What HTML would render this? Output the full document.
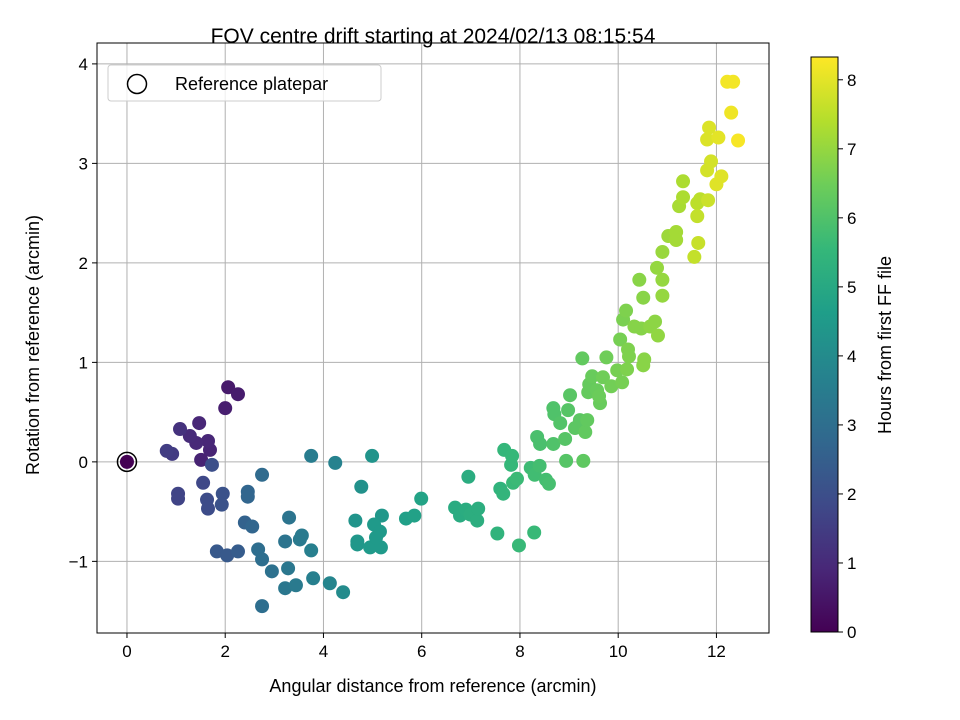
<!DOCTYPE html>
<html><head><meta charset="utf-8"><style>body{margin:0;background:#fff}svg{display:block;font-family:"Liberation Sans","DejaVu Sans",sans-serif}</style></head>
<body>
<svg id="chart" width="960" height="720" viewBox="0 0 960 720" xmlns="http://www.w3.org/2000/svg">
<defs><linearGradient id="vir" x1="0" y1="1" x2="0" y2="0"></linearGradient></defs>
<text x="433" y="43" font-size="21" text-anchor="middle">FOV centre drift starting at 2024/02/13 08:15:54</text>
<g id="grid"></g>
<g id="pts"></g>
<rect x="97" y="43" width="672" height="590" fill="none" stroke="#000" stroke-width="1"/>
<g id="axes"></g>
<text x="433" y="692" font-size="18" text-anchor="middle">Angular distance from reference (arcmin)</text>
<text transform="translate(39,345) rotate(-90)" font-size="18" text-anchor="middle">Rotation from reference (arcmin)</text>
<g>
<rect x="108" y="65" width="273" height="36" rx="3" fill="#fff" fill-opacity="0.8" stroke="#ccc"/>
<circle cx="137" cy="84" r="9.5" fill="none" stroke="#000" stroke-width="1.5"/>
<text x="175" y="90" font-size="18">Reference platepar</text>
</g>
<rect x="811" y="57" width="27" height="575" fill="url(#vir)" stroke="#000" stroke-width="1"/>
<g id="cbar"></g>
<text transform="translate(891,345) rotate(-90)" font-size="18" text-anchor="middle">Hours from first FF file</text>
</svg>
<script>
const xs=[2.06,2.26,2.0,1.47,1.08,1.28,1.41,1.65,1.69,0.81,0.92,1.51,1.73,
1.04,1.04,1.55,1.63,1.65,1.95,1.93,1.83,2.04,2.26,2.4,2.46,2.46,2.55,2.75,2.67,2.75,2.75,2.95,3.28,3.22,3.3,3.22,3.44,3.52,3.56,3.75,3.79,3.75,4.13,4.4,4.24,4.77,4.65,4.69,4.69,4.99,4.95,5.03,5.15,5.17,5.19,5.07,
5.68,5.85,5.99,6.68,6.78,6.9,6.95,6.99,7.13,7.15,7.54,7.6,7.66,7.98,8.29,7.68,7.82,7.84,7.86,7.94,8.22,8.3,8.4,8.53,8.59,8.35,8.41,8.68,8.68,8.7,8.82,8.94,8.92,8.98,9.02,9.12,9.22,9.29,9.27,9.33,9.37,9.39,9.41,9.47,9.57,9.63,9.61,9.76,9.69,9.86,9.98,10.08,10.04,10.1,10.2,10.22,10.18,10.16,10.33,10.47,10.51,10.53,10.51,10.43,10.65,10.75,10.79,10.9,10.9,10.9,10.81,11.02,11.18,11.18,11.24,11.32,11.32,11.55,11.61,11.63,11.61,11.67,11.83,11.81,11.89,11.81,11.85,12.04,12.0,12.1,12.22,12.34,12.3,12.44];
const ys=[0.75,0.68,0.54,0.39,0.33,0.26,0.19,0.21,0.12,0.11,0.08,0.02,-0.03,
-0.32,-0.37,-0.21,-0.38,-0.47,-0.32,-0.43,-0.9,-0.94,-0.9,-0.61,-0.3,-0.35,-0.65,-0.13,-0.88,-0.98,-1.45,-1.1,-1.07,-0.8,-0.56,-1.27,-1.24,-0.78,-0.74,-0.89,-1.17,0.06,-1.22,-1.31,-0.01,-0.25,-0.59,-0.8,-0.83,0.06,-0.86,-0.63,-0.7,-0.86,-0.54,-0.76,
-0.57,-0.54,-0.37,-0.46,-0.54,-0.48,-0.15,-0.53,-0.59,-0.47,-0.72,-0.27,-0.32,-0.84,-0.71,0.12,-0.03,0.06,-0.21,-0.17,-0.06,-0.13,-0.04,-0.18,-0.22,0.25,0.18,0.18,0.54,0.48,0.39,0.01,0.23,0.52,0.67,0.34,0.42,0.01,1.04,0.3,0.42,0.7,0.78,0.86,0.72,0.59,0.66,1.05,0.85,0.76,0.92,0.8,1.23,1.43,1.13,1.06,0.93,1.52,1.36,1.34,0.97,1.03,1.65,1.83,1.36,1.41,1.95,1.83,1.67,2.11,1.27,2.27,2.31,2.23,2.57,2.66,2.82,2.06,2.47,2.2,2.6,2.64,2.63,2.93,3.02,3.24,3.36,3.26,2.79,2.87,3.82,3.82,3.51,3.23];
const hours=[0.6,0.65,0.7,0.9,1.2,1.0,0.95,0.9,0.85,1.5,1.45,0.8,2.0,
1.7,1.7,1.8,1.9,1.9,2.1,2.1,2.3,2.3,2.4,2.6,2.7,2.7,2.7,2.9,3.0,3.0,3.0,3.1,3.3,3.2,3.2,3.3,3.4,3.4,3.4,3.6,3.6,3.5,3.8,4.0,3.7,4.2,4.3,4.4,4.4,4.3,4.5,4.5,4.5,4.5,4.4,4.5,
4.7,4.75,4.8,5.1,5.1,5.15,5.15,5.2,5.2,5.2,5.4,5.4,5.45,5.6,5.6,5.5,5.55,5.55,5.6,5.65,5.7,5.75,5.8,5.8,5.85,5.9,5.9,6.0,6.0,6.0,6.05,6.1,6.1,6.1,6.15,6.2,6.2,6.25,6.3,6.3,6.3,6.35,6.35,6.4,6.4,6.4,6.45,6.5,6.5,6.55,6.6,6.6,6.6,6.65,6.7,6.7,6.7,6.7,6.8,6.8,6.85,6.85,6.85,6.85,6.9,6.9,7.0,7.0,7.0,7.05,6.95,7.1,7.2,7.2,7.25,7.3,7.3,7.6,7.6,7.65,7.5,7.5,7.7,7.8,7.8,7.9,7.9,8.0,7.95,7.95,8.2,8.2,8.15,8.25];
const xTicks=[0,2,4,6,8,10,12], yTicks=[-1,0,1,2,3,4], cTicks=[0,1,2,3,4,5,6,7,8];
const X0=97,X1=769,Y0=633,Y1=43,xMin=-0.61,xMax=13.07,yMin=-1.72,yMax=4.21,cMax=8.33;
const sx=v=>X0+(v-xMin)/(xMax-xMin)*(X1-X0);
const sy=v=>Y0-(v-yMin)/(yMax-yMin)*(Y0-Y1);
const cy=v=>632-v/cMax*575;
const vir=[[68,1,84],[72,40,120],[62,74,137],[49,104,142],[38,130,142],[31,158,137],[53,183,121],[109,205,89],[180,222,44],[253,231,37]];
function col(h){let t=Math.max(0,Math.min(1,h/cMax))*9;let i=Math.min(8,Math.floor(t)),f=t-i;let a=vir[i],b=vir[i+1];return `rgb(${a.map((v,k)=>Math.round(v+(b[k]-v)*f)).join(',')})`;}
const NS='http://www.w3.org/2000/svg';
function mk(tag,at,parent){const e=document.createElementNS(NS,tag);for(const k in at)e.setAttribute(k,at[k]);parent.appendChild(e);return e;}
const grid=document.getElementById('grid'),axes=document.getElementById('axes'),pts=document.getElementById('pts'),cb=document.getElementById('cbar');
xTicks.forEach(t=>{const x=sx(t);
const g=mk('line',{x1:x,x2:x,y1:Y1,y2:Y0,stroke:'#b0b0b0','stroke-width':1},grid);

mk('line',{x1:x,x2:x,y1:Y0,y2:Y0+5,stroke:'#000'},axes);
const l=mk('text',{x:x,y:Y0+24,'font-size':17,'text-anchor':'middle'},axes);l.textContent=String(t);
});
yTicks.forEach(t=>{const y=sy(t);
const g=mk('line',{x1:X0,x2:X1,y1:y,y2:y,stroke:'#b0b0b0','stroke-width':1},grid);

mk('line',{x1:X0-5,x2:X0,y1:y,y2:y,stroke:'#000'},axes);
const l=mk('text',{x:X0-9,y:y+6,'font-size':17,'text-anchor':'end'},axes);l.textContent=t<0?'\u2212'+(-t):String(t);
});
const ord=hours.map((h,i)=>i).sort((a,b)=>hours[a]-hours[b]);
ord.forEach(i=>{const c=mk('circle',{cx:sx(xs[i]),cy:sy(ys[i]),r:7,fill:col(hours[i])},pts);
});
const ref=mk('circle',{cx:sx(0),cy:sy(0),r:7,fill:col(0)},pts);

const refc=mk('circle',{cx:sx(0),cy:sy(0),r:9.5,fill:'none',stroke:'#000','stroke-width':1.5},pts);

const gr=document.getElementById('vir');
vir.forEach((c,k)=>{mk('stop',{offset:(k/9*cMax/cMax),'stop-color':`rgb(${c.join(',')})`},gr);});
cTicks.forEach(t=>{const y=cy(t);mk('line',{x1:838,x2:843,y1:y,y2:y,stroke:'#000'},cb);
const l=mk('text',{x:847,y:y+6,'font-size':17},cb);l.textContent=String(t);
});
</script>
</body></html>
